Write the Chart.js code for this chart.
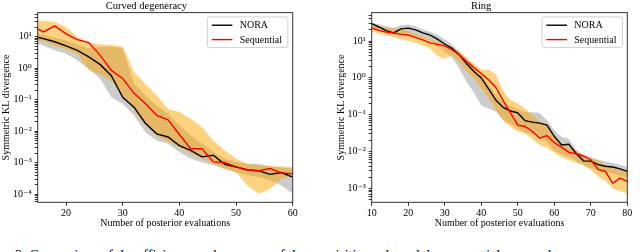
<!DOCTYPE html>
<html>
<head>
<meta charset="utf-8">
<script src="https://cdn.jsdelivr.net/npm/chart.js@4.4.1/dist/chart.umd.min.js"></script>
<style>
  html, body { margin: 0; padding: 0; background: #fff; }
  body { width: 640px; height: 252px; position: relative; overflow: hidden; font-family: 'Liberation Serif', 'DejaVu Serif', serif; }
  .panel { position: absolute; top: 0; width: 320px; height: 240px; }
  #caption { position: absolute; left: 15px; top: 248px; font-size: 14px; white-space: nowrap; color: #000; }
</style>
</head>
<body>
<div class="panel" style="left:0"><canvas id="curved" width="320" height="240"></canvas></div>
<div class="panel" style="left:320px"><canvas id="ring" width="320" height="240"></canvas></div>
<div id="caption">2: Comparison of the efficiency and accuracy of the acquisition rule and the sequential approach</div>
<script>
// ---- Curved degeneracy ----
const curvedX = [15, 16, 18, 20, 22, 24, 26, 28, 30, 32, 34, 36, 38, 40, 42, 44, 46, 48, 50, 52, 54, 56, 58, 60];
const curvedNora = [9.5, 8.7, 6.9, 5.1, 3.7, 2.3, 1.32, 0.58, 0.12, 0.058, 0.018, 0.0083, 0.0066, 0.0035, 0.0025, 0.00155, 0.00174, 0.00089, 0.00074, 0.00059, 0.00056, 0.00043, 0.00049, 0.00035];
const curvedNoraHi = [12.6, 11.2, 9.3, 7.6, 5.8, 4.2, 4.8, 4.8, 4.4, 0.32, 0.138, 0.066, 0.036, 0.0155, 0.0074, 0.0041, 0.0022, 0.00135, 0.00105, 0.00093, 0.00093, 0.00078, 0.00072, 0.00065];
const curvedNoraLo = [6.0, 5.2, 3.7, 2.9, 1.78, 0.95, 0.47, 0.12, 0.074, 0.032, 0.0093, 0.0051, 0.004, 0.0022, 0.00135, 0.00105, 0.00083, 0.00065, 0.0005, 0.0004, 0.00035, 0.00028, 0.00019, 0.000105];
const curvedSeq = [17.8, 14.1, 21.9, 12.3, 8.1, 6.5, 2.6, 0.85, 0.47, 0.16, 0.076, 0.032, 0.023, 0.0079, 0.0028, 0.0028, 0.00107, 0.00102, 0.00074, 0.00059, 0.00056, 0.00066, 0.00048, 0.00045];
const curvedSeqHi = [33.1, 31.6, 29.5, 20.4, 9.8, 6.8, 5.6, 5.4, 4.8, 0.76, 0.32, 0.138, 0.051, 0.041, 0.025, 0.0135, 0.0051, 0.00245, 0.00135, 0.00093, 0.00083, 0.00078, 0.00076, 0.00072];
const curvedSeqLo = [7.9, 7.1, 5.2, 4.0, 2.8, 0.89, 0.63, 0.40, 0.138, 0.046, 0.0155, 0.0074, 0.0046, 0.0032, 0.00195, 0.00135, 0.00093, 0.00065, 0.0005, 0.00019, 0.000105, 0.000148, 0.00031, 0.0004];
const curvedXTicks = [20, 30, 40, 50, 60];
const curvedXRange = [15, 60];
const curvedYRange = [5.6e-5, 58];

// ---- Ring ----
const ringX = [10, 12, 14, 16, 18, 20, 22, 24, 26, 28, 30, 32, 34, 36, 38, 40, 42, 44, 46, 48, 50, 52, 54, 56, 58, 60, 62, 64, 66, 68, 70, 72, 74, 76, 78, 80];
const ringNora = [29.5, 24, 19.1, 16.6, 21.4, 22.4, 20, 16.6, 14.5, 11.2, 8.3, 6.3, 4.2, 2.4, 1.48, 1.0, 0.5, 0.25, 0.158, 0.126, 0.112, 0.069, 0.063, 0.059, 0.052, 0.026, 0.0151, 0.0158, 0.0089, 0.0056, 0.0055, 0.0044, 0.004, 0.0038, 0.0034, 0.0029];
const ringNoraHi = [31.6, 28.2, 25.1, 22.9, 26.3, 28.2, 25.1, 20.4, 17.8, 14.8, 11.0, 7.9, 5.2, 3.1, 1.9, 1.26, 0.65, 0.35, 0.22, 0.166, 0.138, 0.117, 0.117, 0.112, 0.071, 0.038, 0.025, 0.022, 0.0112, 0.0079, 0.0071, 0.006, 0.0054, 0.0049, 0.0044, 0.0038];
const ringNoraLo = [22.4, 19.1, 16.6, 14.1, 15.1, 16.6, 14.1, 12.0, 10.0, 7.1, 5.2, 3.6, 1.78, 0.79, 0.4, 0.178, 0.148, 0.12, 0.071, 0.056, 0.042, 0.033, 0.03, 0.026, 0.0178, 0.0107, 0.0083, 0.0071, 0.0056, 0.0043, 0.0035, 0.0032, 0.0028, 0.0025, 0.0022, 0.002];
const ringSeq = [22.4, 19.5, 17.4, 16.6, 15.1, 14.5, 12.6, 10.7, 8.9, 8.1, 7.4, 5.8, 4.2, 2.8, 1.9, 1.32, 0.89, 0.55, 0.24, 0.112, 0.052, 0.048, 0.035, 0.023, 0.027, 0.0174, 0.0132, 0.0095, 0.0087, 0.0076, 0.006, 0.0033, 0.0029, 0.00138, 0.0019, 0.00155];
const ringSeqHi = [28.2, 25.1, 22.9, 21.4, 20.4, 18.6, 15.8, 13.2, 11.2, 9.5, 8.3, 6.8, 5.2, 3.5, 2.4, 1.66, 1.66, 1.26, 0.43, 0.25, 0.2, 0.148, 0.098, 0.065, 0.047, 0.025, 0.0174, 0.0126, 0.0105, 0.0079, 0.0065, 0.0058, 0.0043, 0.0035, 0.0031, 0.0028];
const ringSeqLo = [18.2, 15.8, 14.1, 12.6, 11.0, 10.0, 8.9, 7.6, 6.3, 4.0, 3.3, 4.2, 2.8, 1.48, 0.98, 0.52, 0.28, 0.141, 0.071, 0.047, 0.035, 0.031, 0.022, 0.0148, 0.0126, 0.0093, 0.0071, 0.0058, 0.005, 0.0042, 0.0032, 0.0021, 0.00158, 0.001, 0.00083, 0.00074];
const ringXTicks = [10, 20, 30, 40, 50, 60, 70, 80];
const ringXRange = [10, 80];
const ringYRange = [4.2e-4, 59];

Chart.defaults.font.family = "'Liberation Serif', 'DejaVu Serif', serif";
Chart.defaults.font.size = 10;
Chart.defaults.color = '#000';

const SUP = { '-': '\u207B', '0': '\u2070', '1': '\u00B9', '2': '\u00B2', '3': '\u00B3', '4': '\u2074', '5': '\u2075', '6': '\u2076', '7': '\u2077', '8': '\u2078', '9': '\u2079' };
function decadeLabel(v) {
  const e = Math.round(Math.log10(v));
  return '10' + String(e).split('').map(c => SUP[c]).join('');
}

function pts(xs, ys) {
  return xs.map((x, i) => ({ x: x, y: ys[i] }));
}

// full box around the plot, like matplotlib spines
const framePlugin = {
  id: 'frame',
  afterDatasetsDraw(chart) {
    const a = chart.chartArea, ctx = chart.ctx;
    ctx.save();
    ctx.strokeStyle = '#333';
    ctx.lineWidth = 1;
    ctx.strokeRect(a.left, a.top, a.right - a.left, a.bottom - a.top);
    ctx.restore();
  }
};

// legend box in the upper right corner
const boxLegend = {
  id: 'boxLegend',
  afterDraw(chart) {
    const a = chart.chartArea, ctx = chart.ctx;
    const items = chart.data.datasets.filter(d => d.label);
    const w = 80.5, h = 30.5;
    const x0 = a.right - 4.8 - w, y0 = a.top + 4.3;
    ctx.save();
    ctx.fillStyle = 'rgba(255,255,255,0.85)';
    ctx.strokeStyle = '#d0d0d0';
    ctx.lineWidth = 1;
    ctx.beginPath();
    ctx.roundRect(x0, y0, w, h, 2);
    ctx.fill();
    ctx.stroke();
    ctx.font = "10px 'Liberation Serif', 'DejaVu Serif', serif";
    ctx.textBaseline = 'middle';
    items.forEach((d, i) => {
      const y = y0 + 8.3 + i * 14.4;
      ctx.strokeStyle = d.borderColor;
      ctx.lineWidth = 1.4;
      ctx.beginPath();
      ctx.moveTo(x0 + 4.3, y);
      ctx.lineTo(x0 + 25, y);
      ctx.stroke();
      ctx.fillStyle = '#000';
      ctx.fillText(d.label, x0 + 32.3, y + 0.5);
    });
    ctx.restore();
  }
};

function makeChart(id, cfg) {
  const band = (data, color, order, fill) => ({
    data: data, borderColor: 'transparent', borderWidth: 0, pointRadius: 0,
    backgroundColor: color, fill: fill, order: order, tension: 0
  });
  const line = (label, data, color, order) => ({
    label: label, data: data, borderColor: color, borderWidth: 1.4, pointRadius: 0,
    fill: false, order: order, tension: 0
  });
  return new Chart(document.getElementById(id), {
    type: 'line',
    data: {
      datasets: [
        band(pts(cfg.x, cfg.noraHi), 'rgba(128,128,128,0.4)', 6, '+1'),
        band(pts(cfg.x, cfg.noraLo), 'transparent', 5, false),
        band(pts(cfg.x, cfg.seqHi), 'rgba(255,165,0,0.5)', 4, '+1'),
        band(pts(cfg.x, cfg.seqLo), 'transparent', 3, false),
        line('NORA', pts(cfg.x, cfg.nora), '#000000', 2),
        line('Sequential', pts(cfg.x, cfg.seq), '#ff0000', 1)
      ]
    },
    options: {
      responsive: false,
      animation: false,
      devicePixelRatio: 1,
      layout: { padding: cfg.padding },
      plugins: {
        legend: { display: false },
        tooltip: { enabled: false },
        title: { display: true, text: cfg.title, font: { size: 10.5, weight: 'normal' }, padding: { top: 0, bottom: 0 }, color: '#000' }
      },
      scales: {
        x: {
          type: 'linear', min: cfg.xRange[0], max: cfg.xRange[1],
          afterBuildTicks: s => { s.ticks = cfg.xTicks.map(v => ({ value: v })); },
          afterFit: s => { s.height = 27; },
          grid: { drawOnChartArea: false, drawTicks: true, tickLength: 3.5, tickColor: '#333' },
          border: { display: false },
          ticks: { padding: 2, autoSkip: false, maxRotation: 0, color: '#000', font: { size: 10 } },
          title: { display: true, text: 'Number of posterior evaluations', padding: 0, font: { size: 10 }, color: '#000' }
        },
        y: {
          type: 'logarithmic', min: cfg.yRange[0], max: cfg.yRange[1],
          afterBuildTicks: s => {
            const t = [];
            for (let e = -6; e <= 2; e++) {
              for (let m = 1; m <= 9; m++) {
                const v = m * Math.pow(10, e);
                if (v >= s.min && v <= s.max) t.push({ value: v, major: m === 1 });
              }
            }
            s.ticks = t;
          },
          afterFit: s => { s.width = cfg.yWidth; },
          grid: { drawOnChartArea: false, drawTicks: true, tickLength: 3, tickColor: '#333' },
          border: { display: false },
          ticks: {
            padding: 3, autoSkip: false, color: '#000', font: { size: 10 },
            callback: (v, i, ticks) => ticks[i].major ? decadeLabel(v) : ''
          },
          title: { display: true, text: 'Symmetric KL divergence', padding: 0, font: { size: 10 }, color: '#000' }
        }
      }
    },
    plugins: [framePlugin, boxLegend]
  });
}

makeChart('curved', {
  title: 'Curved degeneracy', x: curvedX,
  nora: curvedNora, noraHi: curvedNoraHi, noraLo: curvedNoraLo,
  seq: curvedSeq, seqHi: curvedSeqHi, seqLo: curvedSeqLo,
  xTicks: curvedXTicks, xRange: curvedXRange, yRange: curvedYRange,
  yWidth: 37.7, padding: { left: 0, right: 27.3, top: 0, bottom: 10.7 }
});

makeChart('ring', {
  title: 'Ring', x: ringX,
  nora: ringNora, noraHi: ringNoraHi, noraLo: ringNoraLo,
  seq: ringSeq, seqHi: ringSeqHi, seqLo: ringSeqLo,
  xTicks: ringXTicks, xRange: ringXRange, yRange: ringYRange,
  yWidth: 36.7, padding: { left: 15, right: 12.7, top: 0, bottom: 10.7 }
});
</script>
</body>
</html>
